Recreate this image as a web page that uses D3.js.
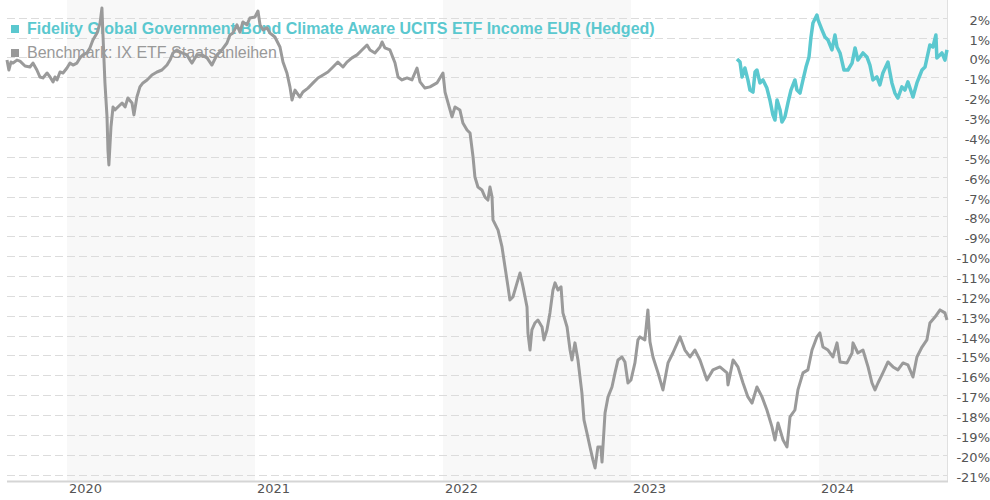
<!DOCTYPE html>
<html>
<head>
<meta charset="utf-8">
<script src="https://cdn.jsdelivr.net/npm/d3@7"></script>
<style>
html,body{margin:0;padding:0;background:#fff;}
svg{display:block;}
</style>
</head>
<body>
<svg id="chart" width="990" height="500"></svg>
<script>
// ---- data (decimal years, % performance) ----
const benchName = "Benchmark: IX ETF Staatsanleihen";
const fundName = "Fidelity Global Government Bond Climate Aware UCITS ETF Income EUR (Hedged)";
const yearTicks = [2020, 2021, 2022, 2023, 2024];
const shadedYears = [2020, 2022, 2024];
const pctTicks = [2,1,0,-1,-2,-3,-4,-5,-6,-7,-8,-9,-10,-11,-12,-13,-14,-15,-16,-17,-18,-19,-20,-21];

const benchDates = [2019.681,2019.691,2019.702,2019.713,2019.734,2019.750,2019.777,2019.803,2019.819,2019.840,2019.856,2019.872,2019.894,2019.910,2019.926,2019.936,2019.947,2019.963,2019.979,2020.000,2020.016,2020.032,2020.053,2020.069,2020.085,2020.106,2020.122,2020.138,2020.160,2020.176,2020.186,2020.191,2020.202,2020.213,2020.218,2020.223,2020.234,2020.245,2020.255,2020.271,2020.293,2020.309,2020.324,2020.346,2020.356,2020.372,2020.388,2020.404,2020.426,2020.452,2020.479,2020.505,2020.532,2020.548,2020.564,2020.585,2020.612,2020.638,2020.654,2020.665,2020.691,2020.718,2020.745,2020.771,2020.798,2020.824,2020.851,2020.867,2020.883,2020.904,2020.920,2020.936,2020.957,2020.973,2021.000,2021.016,2021.027,2021.043,2021.064,2021.080,2021.106,2021.133,2021.149,2021.170,2021.186,2021.197,2021.213,2021.239,2021.255,2021.282,2021.309,2021.335,2021.362,2021.388,2021.415,2021.441,2021.468,2021.489,2021.516,2021.543,2021.569,2021.596,2021.612,2021.638,2021.665,2021.676,2021.691,2021.718,2021.745,2021.761,2021.782,2021.809,2021.835,2021.862,2021.878,2021.904,2021.931,2021.968,2022.000,2022.011,2022.027,2022.048,2022.064,2022.090,2022.106,2022.128,2022.144,2022.160,2022.170,2022.186,2022.207,2022.223,2022.239,2022.250,2022.261,2022.266,2022.293,2022.314,2022.330,2022.346,2022.356,2022.372,2022.394,2022.410,2022.426,2022.447,2022.452,2022.463,2022.473,2022.489,2022.505,2022.527,2022.537,2022.553,2022.569,2022.585,2022.596,2022.612,2022.628,2022.638,2022.660,2022.676,2022.686,2022.702,2022.718,2022.739,2022.750,2022.766,2022.782,2022.798,2022.809,2022.824,2022.840,2022.846,2022.862,2022.878,2022.899,2022.915,2022.931,2022.952,2022.968,2022.984,2023.000,2023.021,2023.037,2023.048,2023.074,2023.090,2023.101,2023.117,2023.144,2023.170,2023.197,2023.223,2023.261,2023.287,2023.314,2023.340,2023.367,2023.404,2023.436,2023.473,2023.511,2023.516,2023.543,2023.569,2023.596,2023.622,2023.644,2023.670,2023.697,2023.723,2023.750,2023.766,2023.782,2023.809,2023.830,2023.846,2023.872,2023.888,2023.915,2023.941,2023.963,2023.989,2024.005,2024.021,2024.048,2024.074,2024.096,2024.112,2024.149,2024.176,2024.181,2024.207,2024.234,2024.261,2024.282,2024.298,2024.314,2024.340,2024.367,2024.394,2024.420,2024.447,2024.473,2024.500,2024.521,2024.548,2024.574,2024.590,2024.617,2024.644,2024.670,2024.681];
const benchValues = [-0.13,-0.63,-0.23,-0.28,-0.13,-0.18,-0.43,-0.48,-0.28,-0.63,-0.98,-1.03,-0.78,-0.98,-1.23,-0.98,-1.13,-0.73,-0.78,-0.53,-0.28,-0.38,-0.28,-0.02,0.13,0.23,0.48,0.88,1.23,1.74,2.49,1.23,-1.28,-2.99,-4.66,-5.41,-3.50,-2.49,-2.64,-2.49,-2.29,-2.49,-2.04,-2.29,-2.89,-1.99,-1.48,-1.28,-1.13,-0.88,-0.73,-0.63,-0.38,-0.13,0.23,0.38,0.23,0.13,-0.13,-0.28,0.13,0.13,-0.02,-0.38,0.13,0.38,0.73,1.13,1.23,1.64,1.28,1.79,1.64,1.99,2.04,2.34,1.64,1.39,1.49,1.23,1.03,0.53,-0.23,-0.78,-1.48,-2.14,-1.64,-1.99,-1.74,-1.54,-1.28,-1.03,-0.88,-0.73,-0.48,-0.23,-0.48,-0.23,-0.02,0.13,0.38,0.63,0.38,0.23,0.53,0.78,0.48,0.38,-0.28,-0.98,-1.13,-1.03,-1.13,-0.53,-1.23,-1.54,-1.48,-1.28,-0.78,-1.74,-2.29,-2.99,-2.49,-2.64,-3.30,-3.65,-3.80,-5.01,-6.02,-6.52,-6.67,-7.02,-7.18,-6.52,-7.02,-8.18,-8.69,-9.54,-10.55,-11.55,-12.21,-12.06,-11.35,-10.85,-11.55,-12.56,-13.87,-14.73,-13.72,-13.37,-13.22,-13.57,-14.22,-13.72,-12.86,-11.71,-11.35,-11.71,-11.55,-12.86,-13.57,-14.73,-15.23,-14.37,-15.23,-16.89,-18.25,-18.91,-19.61,-20.27,-20.67,-19.61,-19.61,-20.37,-17.90,-17.09,-16.59,-15.88,-15.23,-15.08,-15.33,-16.39,-16.24,-15.38,-14.22,-14.07,-14.22,-12.71,-14.32,-15.08,-15.88,-16.74,-15.38,-14.88,-14.07,-14.73,-15.08,-14.73,-15.23,-16.24,-15.73,-15.58,-15.88,-16.49,-15.23,-15.58,-16.39,-17.09,-17.40,-16.59,-17.09,-17.75,-18.60,-19.26,-18.40,-19.26,-19.61,-18.10,-17.75,-16.74,-15.88,-15.73,-14.73,-14.07,-13.87,-14.58,-14.73,-15.08,-14.37,-15.33,-15.38,-14.88,-14.37,-14.88,-14.73,-15.58,-16.39,-16.74,-16.39,-15.88,-15.33,-15.58,-15.73,-15.38,-15.48,-16.09,-15.08,-14.58,-14.22,-13.37,-13.07,-12.71,-12.86,-13.22];

const fundDates = [2023.564,2023.580,2023.591,2023.606,2023.622,2023.633,2023.649,2023.660,2023.670,2023.686,2023.702,2023.723,2023.739,2023.755,2023.766,2023.777,2023.793,2023.803,2023.819,2023.835,2023.851,2023.872,2023.883,2023.899,2023.915,2023.931,2023.947,2023.957,2023.968,2023.989,2023.995,2024.016,2024.032,2024.048,2024.069,2024.085,2024.096,2024.112,2024.133,2024.154,2024.176,2024.192,2024.207,2024.234,2024.255,2024.271,2024.287,2024.308,2024.324,2024.340,2024.367,2024.388,2024.404,2024.420,2024.441,2024.457,2024.473,2024.500,2024.521,2024.548,2024.564,2024.590,2024.606,2024.622,2024.627,2024.654,2024.670,2024.681];
const fundValues = [-0.08,-0.23,-0.98,-0.53,-1.13,-1.64,-1.74,-0.73,-0.63,-1.28,-1.13,-1.54,-2.14,-2.89,-3.15,-2.14,-2.64,-3.25,-2.99,-2.29,-1.64,-1.13,-1.64,-1.79,-1.13,-0.48,0.03,0.98,1.74,2.14,1.89,1.39,1.03,0.88,0.38,1.13,0.53,0.23,-0.63,-0.63,-0.28,0.48,-0.13,0.23,0.03,-0.38,-1.13,-0.98,-1.38,-0.78,-0.23,-1.28,-1.79,-2.04,-1.48,-1.64,-1.23,-1.99,-1.28,-0.63,-0.48,0.63,0.53,1.13,-0.02,0.23,-0.13,0.38];

// ---- chart ----
(function () {
const svg = d3.select("#chart");
const pLeft = 7, pRight = 947, pTop = 0, pBottom = 481.5;
const x = d3.scaleLinear().domain([2019.681, 2024.681]).range([pLeft, pRight]);
const y = d3.scaleLinear().domain([-21.35, 2.895]).range([pBottom, pTop]);

// shaded alternate years
svg.append("g").selectAll("rect").data(shadedYears).join("rect")
  .attr("x", d => x(d))
  .attr("y", pTop)
  .attr("width", d => Math.min(x(d + 1), pRight) - x(d))
  .attr("height", pBottom - pTop)
  .attr("fill", "#f8f8f8");

// gridlines
svg.append("g").selectAll("line").data(pctTicks).join("line")
  .attr("x1", pLeft).attr("x2", pRight)
  .attr("y1", d => Math.round(y(d)) + 0.5).attr("y2", d => Math.round(y(d)) + 0.5)
  .attr("stroke", "#dcdcdc").attr("stroke-width", 1)
  .attr("stroke-dasharray", "8,4");

// right border & bottom axis line
svg.append("line").attr("x1", pRight + 0.5).attr("x2", pRight + 0.5).attr("y1", pTop).attr("y2", pBottom)
  .attr("stroke", "#e0e0e0").attr("stroke-width", 1);
svg.append("line").attr("x1", pLeft).attr("x2", pRight + 1).attr("y1", pBottom).attr("y2", pBottom)
  .attr("stroke", "#d5d5d5").attr("stroke-width", 2);

// y labels (right)
svg.append("g").selectAll("text").data(pctTicks).join("text")
  .attr("x", 990).attr("y", d => y(d) + 7)
  .attr("text-anchor", "end")
  .attr("font-family", "DejaVu Sans").attr("font-size", 13).attr("fill", "#555")
  .text(d => d + "%");

// x labels
svg.append("g").selectAll("text").data(yearTicks).join("text")
  .attr("x", d => x(d) + 2).attr("y", 493.3)
  .attr("text-anchor", "start")
  .attr("font-family", "DejaVu Sans").attr("font-size", 13).attr("fill", "#555")
  .text(d => d);

// legend
const legend = svg.append("g");
legend.append("rect").attr("x", 11).attr("y", 25).attr("width", 8).attr("height", 8).attr("fill", "#5bc8cf");
legend.append("text").attr("x", 27).attr("y", 34.3)
  .attr("font-family", "Liberation Sans, Arial, sans-serif").attr("font-size", 16).attr("font-weight", "bold")
  .attr("fill", "#5bc8cf").text(fundName);
legend.append("rect").attr("x", 11).attr("y", 49).attr("width", 8).attr("height", 8).attr("fill", "#999");
legend.append("text").attr("x", 27).attr("y", 58.3)
  .attr("font-family", "Liberation Sans, Arial, sans-serif").attr("font-size", 16)
  .attr("fill", "#999").text(benchName);

// lines
const line = d3.line().x(d => x(d[0])).y(d => y(d[1]));
const bench = benchDates.map((d, i) => [d, benchValues[i]]);
const fund = fundDates.map((d, i) => [d, fundValues[i]]);

svg.append("path").datum(bench).attr("d", line)
  .attr("fill", "none").attr("stroke", "#9a9a9a").attr("stroke-width", 3)
  .attr("stroke-linejoin", "round");
svg.append("path").datum(fund).attr("d", line)
  .attr("fill", "none").attr("stroke", "#5bc8cf").attr("stroke-width", 3.5)
  .attr("stroke-linejoin", "round");
})();
</script>
</body>
</html>
